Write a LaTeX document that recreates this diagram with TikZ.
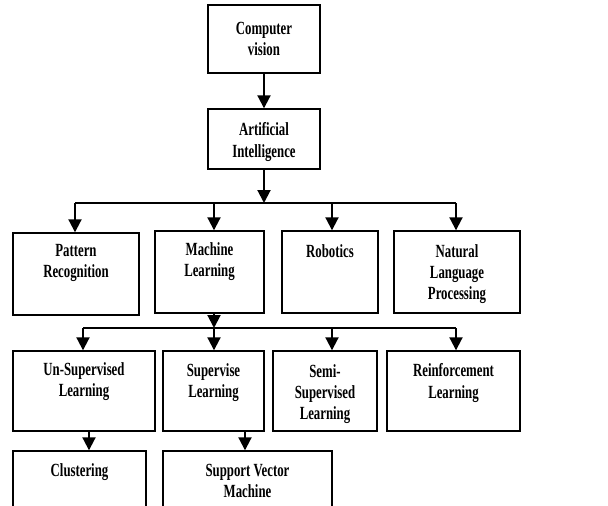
\documentclass[tikz,border=0pt]{standalone}
\usepackage{fontspec}
\setmainfont{Liberation Serif}
\usetikzlibrary{arrows.meta}

\begin{document}
\begin{tikzpicture}[x=1pt, y=-1pt,
    box/.style={draw, line width=1.4pt, inner sep=0pt},
    lbl/.style={font=\fontsize{12.8}{14.5}\selectfont\bfseries, align=center, inner sep=0pt, yscale=1.45},
    arr/.style={line width=2pt, -{Triangle[width=13pt,length=13pt]}},
    bus/.style={line width=2pt}]
          \useasboundingbox (0,0) rectangle (608,506);
          \clip (0,0) rectangle (608,506);

          \node[box, minimum width=112pt, minimum height=68pt] (cv) at (264,39) {};
          \node[lbl] (cvT) at (264,39) {Computer\\vision};
          \node[box, minimum width=112pt, minimum height=60pt] (ai) at (264,139) {};
          \node[lbl] (aiT) at (264,142) {Artificial\\Intelligence};

          \node[box, minimum width=126pt, minimum height=82pt] (pr) at (76,274) {};
          \node[lbl] (prT) at (76,262.5) {Pattern\\Recognition};
          \node[box, minimum width=109pt, minimum height=82pt] (ml) at (209.5,272) {};
          \node[lbl] (mlT) at (209.5,261.5) {Machine\\Learning};
          \node[box, minimum width=96pt, minimum height=82pt] (rob) at (330,272) {};
          \node[lbl] (robT) at (330,251) {Robotics};
          \node[box, minimum width=126pt, minimum height=82pt] (nlp) at (457,272) {};
          \node[lbl] (nlpT) at (457,274.5) {Natural\\Language\\Processing};

          \node[box, minimum width=142pt, minimum height=80pt] (usl) at (84,391) {};
          \node[lbl] (uslT) at (84,381.5) {Un-Supervised\\Learning};
          \node[box, minimum width=101pt, minimum height=80pt] (sl) at (213.5,391) {};
          \node[lbl] (slT) at (213.5,383) {Supervise\\Learning};
          \node[box, minimum width=104pt, minimum height=80pt] (ssl) at (325,391) {};
          \node[lbl] (sslT) at (325,393.7) {Semi-\\Supervised\\Learning};
          \node[box, minimum width=133pt, minimum height=80pt] (rl) at (453.5,391) {};
          \node[lbl] (rlT) at (453.5,383) {Reinforcement\\Learning};

          \node[box, minimum width=133pt, minimum height=80pt] (clu) at (79.5,491) {};
          \node[lbl] (cluT) at (79.5,472) {Clustering};
          \node[box, minimum width=169pt, minimum height=80pt] (svm) at (247.5,491) {};
          \node[lbl] (svmT) at (247.5,481) {Support Vector\\Machine};

          \coordinate (bus1) at (264,203);
          \coordinate (bus2) at (214,328);

          \draw[arr] (cv) -- (ai);
          \draw[arr] (ai) -- (bus1);
          \draw[bus] ([xshift=-1pt]pr.north |- bus1) -- ([xshift=-1pt]nlp.north |- bus1);
          \foreach \n/\dx in {pr/-1,ml/4.5,rob/2,nlp/-1}{
            \draw[arr] ([xshift=\dx pt]\n.north |- bus1) -- ([xshift=\dx pt]\n.north);
          }

          \draw[arr] ([xshift=4.5pt]ml.south) -- (bus2);
          \draw[bus] ([xshift=-1pt]usl.north |- bus2) -- ([xshift=2.5pt]rl.north |- bus2);
          \foreach \n/\dx in {usl/-1,sl/0.5,ssl/7,rl/2.5}{
            \draw[arr] ([xshift=\dx pt]\n.north |- bus2) -- ([xshift=\dx pt]\n.north);
          }

          \draw[arr] ([xshift=5pt]usl.south) -- ([xshift=5pt]usl.south |- clu.north);
          \draw[arr] ([xshift=31.5pt]sl.south) -- ([xshift=31.5pt]sl.south |- svm.north);
        \end{tikzpicture}
\end{document}
